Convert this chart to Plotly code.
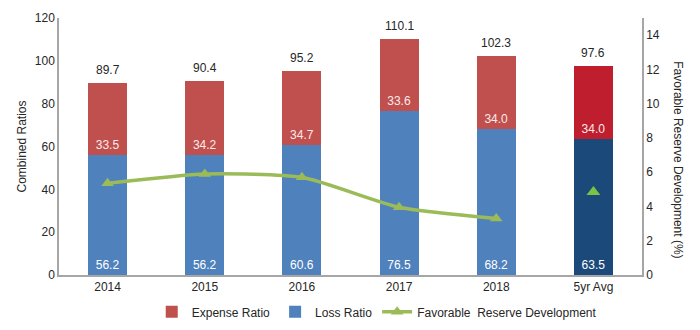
import plotly.graph_objects as go

categories = ["2014", "2015", "2016", "2017", "2018", "5yr Avg"]
loss_ratio = [56.2, 56.2, 60.6, 76.5, 68.2, 63.5]
expense_ratio = [33.5, 34.2, 34.7, 33.6, 34.0, 34.0]
combined_labels = ["89.7", "90.4", "95.2", "110.1", "102.3", "97.6"]
reserve_years = ["2014", "2015", "2016", "2017", "2018"]
reserve_dev = [5.35, 5.9, 5.7, 3.95, 3.3]
reserve_avg_cat = ["5yr Avg"]
reserve_avg = [4.85]

loss_colors = ["#4F81BD"] * 5 + ["#1B4A7A"]
exp_colors = ["#C0504D"] * 5 + ["#BE1E2D"]
font_fam = "Liberation Sans, Arial, sans-serif"
dark = "#262626"

totals = [l + e for l, e in zip(loss_ratio, expense_ratio)]

fig = go.Figure()
fig.add_trace(go.Bar(
    x=categories, y=loss_ratio, name="Loss Ratio", legendrank=2,
    marker=dict(color=loss_colors, line=dict(width=0)),
    text=[f"{v:.1f}" for v in loss_ratio], textposition="inside",
    insidetextanchor="start", textangle=0,
    textfont=dict(color="white", size=12, family=font_fam),
))
fig.add_trace(go.Bar(
    x=categories, y=expense_ratio, name="Expense Ratio", legendrank=1,
    marker=dict(color=exp_colors, line=dict(width=0)),
    text=[f"{v:.1f}" for v in expense_ratio], textposition="inside",
    insidetextanchor="start", textangle=0,
    textfont=dict(color="#FBEAEA", size=12, family=font_fam),
))
fig.add_trace(go.Scatter(
    x=reserve_years, y=reserve_dev, name="Favorable  Reserve Development",
    legendrank=3, yaxis="y2", mode="lines+markers",
    line=dict(color="#9BBB59", width=3.5, shape="spline", smoothing=0.6),
    marker=dict(symbol="triangle-up", size=11, color="#9BBB59"),
))
fig.add_trace(go.Scatter(
    x=reserve_avg_cat, y=reserve_avg, yaxis="y2", mode="markers",
    showlegend=False,
    marker=dict(symbol="triangle-up", size=12, color="#7DC243"),
))

annotations = [
    dict(x=i, y=t, text=lbl, xref="x", yref="y", showarrow=False,
         yanchor="middle", yshift=13, font=dict(size=12, color=dark))
    for i, (t, lbl) in enumerate(zip(totals, combined_labels))
]
annotations.append(dict(text="Favorable Reserve Development (%)", textangle=90,
                        xref="paper", yref="paper", x=1.062, y=0.45,
                        showarrow=False, xanchor="center", yanchor="middle",
                        font=dict(size=12, color=dark)))

fig.update_layout(
    width=700, height=330,
    margin=dict(l=59, r=58, t=18, b=55, autoexpand=False),
    barmode="stack", bargap=0.6,
    plot_bgcolor="white", paper_bgcolor="white",
    font=dict(family=font_fam, size=12, color=dark),
    xaxis=dict(type="category", categoryorder="array", categoryarray=categories,
               range=[-0.5, 5.5],
               showline=True, linecolor="#A6A6A6", linewidth=1.5,
               ticks="", showgrid=False, automargin=False,
               tickfont=dict(size=12, color=dark)),
    yaxis=dict(range=[0, 120], dtick=20, showline=True, linecolor="#A6A6A6",
               linewidth=1.5, showgrid=False, zeroline=False, automargin=False,
               tickfont=dict(size=12, color=dark),
               title=dict(text="Combined Ratios", standoff=6,
                          font=dict(size=12, color=dark))),
    yaxis2=dict(range=[0, 15], tickvals=[0, 2, 4, 6, 8, 10, 12, 14],
                overlaying="y", side="right", showline=True,
                linecolor="#A6A6A6", linewidth=1.5, showgrid=False,
                zeroline=False, automargin=False,
                tickfont=dict(size=12, color=dark)),
    legend=dict(orientation="h", x=0.545, xanchor="center", y=0.055,
                yref="container", yanchor="middle",
                font=dict(size=12, color=dark), traceorder="normal"),
    annotations=annotations,
)

fig.write_html("out.html")
